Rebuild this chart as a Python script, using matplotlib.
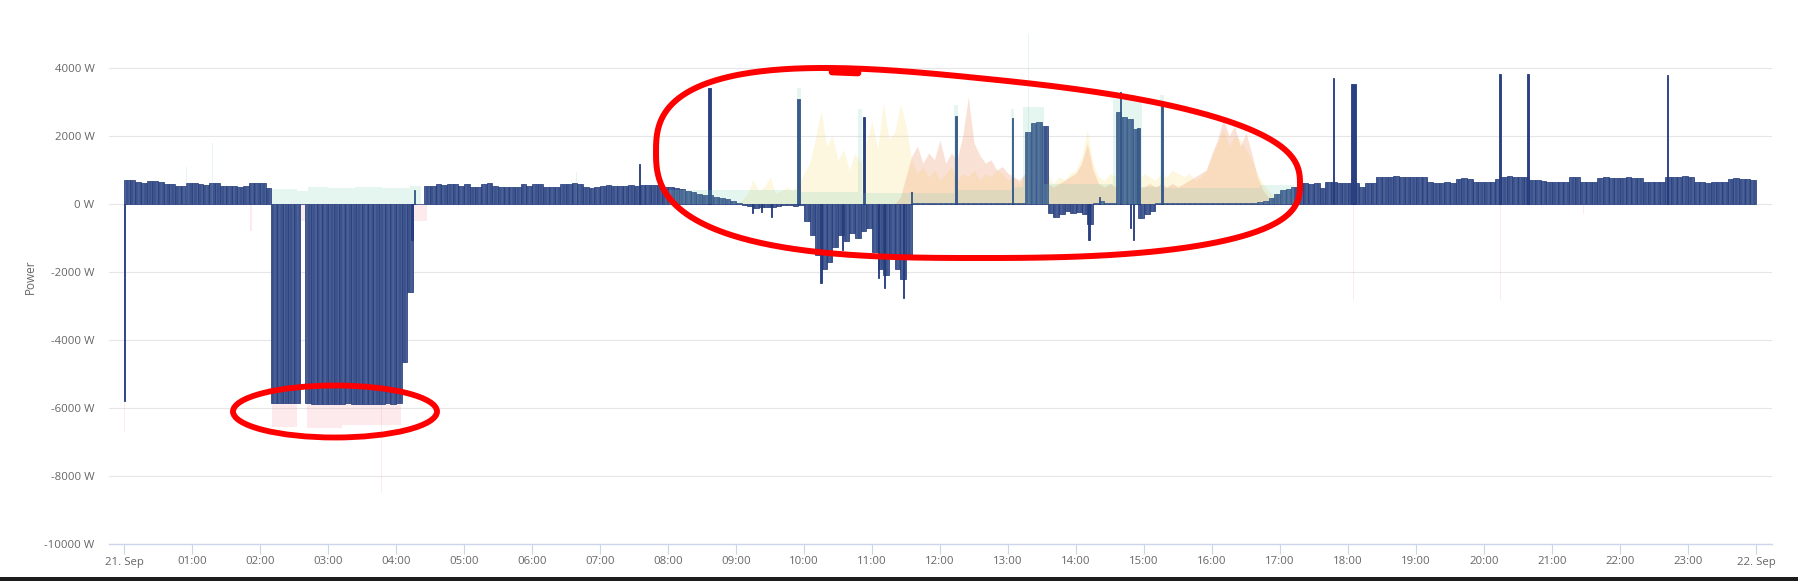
import numpy as np
import matplotlib
matplotlib.use("Agg")
import matplotlib.pyplot as plt
from matplotlib.patches import Ellipse, Rectangle

# ---------------- data (hours since 21 Sep 00:00, watts) ----------------
# main (navy) series, 5-minute values, one row per hour
navy_5min = [
    [700, 720, 650, 620, 680, 680, 650, 580, 600, 520, 540, 620],                # 00
    [620, 600, 560, 620, 610, 520, 520, 520, 510, 540, 610, 620],                # 01
    [630, 480, -5850, -5850, -5850, -5850, -5850, 0, -5850, -5880, -5870, -5880],# 02
    [-5880, -5870, -5880, -5860, -5880, -5870, -5880, -5890, -5870, -5880, -5860, -5870],  # 03
    [-5850, -4650, -2600, 0, 0, 530, 540, 600, 560, 600, 600, 520],              # 04
    [600, 500, 510, 600, 610, 520, 500, 490, 510, 500, 590, 520],                # 05
    [580, 590, 500, 510, 500, 590, 600, 610, 600, 500, 480, 500],                # 06
    [540, 550, 540, 530, 540, 560, 540, 560, 560, 570, 560, 500],                # 07
    [500, 470, 430, 370, 340, 300, 270, 260, 220, 180, 140, 80],                 # 08
    [20, -20, -60, -120, -80, -100, -90, -60, -30, -30, -60, -40],               # 09
    [-500, -900, -1500, -1900, -1700, -1250, -900, -1100, -850, -1000, -800, -700],  # 10
    [-1400, -1900, -2100, -1600, -1900, -2200, -1500, 20, 20, 20, 20, 20],       # 11
    [20, 20, 20, 20, 20, 20, 20, 20, 20, 20, 20, 20],                            # 12
    [20, 20, 20, 2130, 2370, 2400, 2300, -250, -380, -300, -200, -250],          # 13
    [-230, -300, -600, 20, 100, 20, 20, 2720, 2550, 2500, 2200, -400],           # 14
    [-300, -200, 20, 20, 20, 20, 20, 20, 20, 20, 20, 20],                        # 15
    [20, 20, 20, 20, 20, 20, 20, 20, 50, 100, 180, 300],                         # 16
    [400, 450, 500, 610, 610, 600, 620, 470, 650, 650, 630, 620],                # 17
    [630, 630, 510, 620, 630, 800, 780, 800, 810, 790, 800, 780],                # 18
    [800, 790, 640, 630, 620, 640, 630, 750, 760, 740, 650, 660],                # 19
    [640, 650, 750, 800, 820, 790, 800, 790, 700, 700, 680, 650],                # 20
    [650, 640, 660, 800, 790, 650, 640, 660, 770, 780, 760, 770],                # 21
    [770, 780, 760, 770, 650, 640, 660, 650, 800, 800, 790, 810],                # 22
    [800, 640, 650, 630, 640, 650, 640, 750, 760, 750, 740, 720],                # 23
]

# short navy spikes: time (h), value (W), duration (min)
spike_times = [0.005, 4.24, 4.27, 7.58, 8.61, 9.24, 9.37, 9.52, 9.92, 10.25, 10.57,
               10.88, 11.09, 11.19, 11.46, 11.58, 12.23, 13.07, 14.19, 14.35, 14.66,
               14.80, 14.85, 14.92, 15.26, 17.79, 18.08, 20.24, 20.65, 22.70]
spike_values = [-5800, -1060, 400, 1180, 3420, -275, -225, -370, 3100, -2330, -1350,
                2550, -2190, -2480, -2770, 360, 2590, 2520, -1060, 200, 3280,
                -700, -1060, 2230, 2910, 3700, 3530, 3810, 3810, 3790]
spike_minutes = [1.0, 1.5, 0.6, 0.6, 2.0, 1.0, 1.0, 0.7, 2.5, 1.0, 1.0,
                 1.2, 1.0, 1.0, 0.8, 1.0, 2.0, 1.0, 1.5, 1.0, 0.8,
                 1.0, 1.2, 2.0, 1.5, 1.2, 4.0, 2.0, 1.5, 1.5]

# faint mint series: start (h), end (h), value (W)
mint_start = [2.17, 2.55, 2.70, 3.00, 3.40, 3.80, 4.20, 8.00, 9.90, 9.96, 10.80, 10.86,
              12.20, 12.26, 13.05, 13.09, 13.22, 13.53, 14.55, 14.97, 15.24, 15.29, 16.70,
              0.91, 1.30, 13.30, 6.65]
mint_end = [2.55, 2.70, 3.00, 3.40, 3.80, 4.20, 4.37, 9.90, 9.96, 10.80, 10.86, 12.20,
            12.26, 13.05, 13.09, 13.22, 13.53, 14.55, 14.97, 15.24, 15.29, 16.70, 17.20,
            0.92, 1.31, 13.31, 6.66]
mint_value = [450, 380, 500, 470, 510, 480, 520, 420, 3400, 350, 2800, 330,
              2900, 400, 2800, 500, 2850, 600, 3100, 500, 3200, 480, 550,
              1100, 1780, 5000, 950]

# faint yellow series, 5-minute values from 09:00 to 17:00
yellow_start = 9.0
yellow_5min = [0, 100, 300, 700, 400, 500, 800, 300, 400, 500, 400, 600,
               900, 1200, 1900, 2750, 1700, 2000, 1300, 1600, 1000, 1500, 1200, 1800,
               2450, 1600, 3000, 1900, 2100, 2950, 2300, 1300, 900, 1100, 800, 1000,
               700, 900, 1100, 700, 900, 800, 1000, 700, 900, 800, 1000, 900,
               700, 800, 600, 900, 700, 800, 700, 900, 600, 800, 700, 900,
               1000, 1400, 2180, 1200, 800, 700, 900, 800, 700, 900, 800, 700,
               900, 800, 700, 900, 800, 1000, 900, 800, 900, 700, 800, 1000,
               1400, 1800, 2200, 1700, 2000, 1900, 1600, 1300, 900, 600, 400, 200, 0]

# faint orange series, 5-minute values from 11:00 to 17:00
orange_start = 11.0
orange_5min = [0, 0, 0, 0, 0, 200, 800, 1400, 1700, 1200, 1500, 1300,
               1880, 1200, 1500, 1300, 2000, 3150, 1800, 1440, 1200, 1300, 1000, 1100,
               900, 800, 700, 900, 700, 600, 500, 600, 500, 600, 700, 800,
               900, 1200, 1780, 1000, 600, 500, 600, 500, 600, 500, 600, 500,
               500, 600, 500, 600, 500, 600, 500, 600, 700, 800, 900, 1000,
               1500, 1900, 2500, 2000, 2300, 1700, 2100, 1500, 800, 400, 200, 100, 0]

# faint pink (negative) series: start (h), end (h), value (W)
pink_start = [0.0, 1.85, 2.17, 2.55, 2.69, 3.20, 4.08, 4.20, 3.78, 18.08, 20.24, 21.46]
pink_end = [0.02, 1.88, 2.55, 2.69, 3.20, 4.08, 4.20, 4.45, 3.79, 18.09, 20.25, 21.47]
pink_value = [-6700, -800, -6550, -500, -6600, -6500, -1900, -500, -8500, -2820, -2820, -300]

y_ticks = [-10000, -8000, -6000, -4000, -2000, 0, 2000, 4000]
x_tick_labels = ["21. Sep"] + [f"{h:02d}:00" for h in range(1, 24)] + ["22. Sep"]

# ---------------- figure ----------------
W, H = 1799, 581
plt.rcParams["font.family"] = ["Open Sans", "DejaVu Sans"]
plt.rcParams["hatch.linewidth"] = 0.4
fig = plt.figure(figsize=(W / 100, H / 100), dpi=100)
fig.patch.set_facecolor("white")

px_per_h = 68.0
x0_px, left_px, right_px = 124, 109, 1772
top_px, bottom_px, zero_px, px_per_kw = 12, 544, 204, 34.0
ax = fig.add_axes([left_px / W, (H - bottom_px) / H,
                   (right_px - left_px) / W, (bottom_px - top_px) / H])
ax.set_xlim(-(x0_px - left_px) / px_per_h, (right_px - x0_px) / px_per_h)
ax.set_ylim(-10000, (zero_px - top_px) / px_per_kw * 1000)

# navy main series
navy_vals = np.array(navy_5min, dtype=float).ravel()
navy_t = np.arange(navy_vals.size) * 5 / 60
ax.bar(navy_t, navy_vals, width=5 / 60, align="edge", color="#5a6fa0",
       edgecolor="#243b7c", linewidth=0.5, hatch="|" * 13, zorder=3)
ax.bar(spike_times, spike_values, width=np.array(spike_minutes) / 60, align="center",
       color="#2a4080", edgecolor="#233a7b", linewidth=0.6, zorder=3)

# faint series
ax.bar(pink_start, pink_value, width=np.array(pink_end) - np.array(pink_start),
       align="edge", color="#f4a0aa", alpha=0.22, linewidth=0, zorder=2)
yt = yellow_start + np.arange(len(yellow_5min)) * 5 / 60
ax.fill_between(yt, 0, yellow_5min, color="#f7dc6f", alpha=0.22, linewidth=0, zorder=2)
ot = orange_start + np.arange(len(orange_5min)) * 5 / 60
ax.fill_between(ot, 0, orange_5min, color="#ee8a5c", alpha=0.25, linewidth=0, zorder=2)
ax.bar(mint_start, mint_value, width=np.array(mint_end) - np.array(mint_start),
       align="edge", color="#7fcdb5", alpha=0.2, linewidth=0, zorder=4)

# axes styling
for s in ["top", "left", "right"]:
    ax.spines[s].set_visible(False)
ax.spines["bottom"].set_color("#ccd6eb")
ax.spines["bottom"].set_linewidth(1.0)
ax.spines["bottom"].set_zorder(5)
ax.set_yticks(y_ticks)
ax.set_yticklabels([f"{v} W" for v in y_ticks])
ax.set_xticks(range(25))
ax.set_xticklabels(x_tick_labels)
ax.tick_params(axis="y", length=0, pad=10.5, labelsize=8.2, labelcolor="#666666")
ax.tick_params(axis="x", length=7, width=0.8, color="#ccd6eb", pad=2,
               labelsize=8.2, labelcolor="#666666")
ax.yaxis.grid(True, color="#e6e6e6", linewidth=0.8)
ax.set_axisbelow(True)
fig.text(30 / W, 1 - 277 / H, "Power", rotation=90, ha="center", va="center",
         fontsize=8.5, color="#666666")

# ---------------- hand-drawn red annotations (pixel overlay) ----------------
ov = fig.add_axes([0, 0, 1, 1], facecolor="none")
ov.set_xlim(0, W)
ov.set_ylim(H, 0)
ov.axis("off")
ov.add_patch(Ellipse((335, 411.5), 204, 52, fill=False, edgecolor="#ff0000", linewidth=4.2))
th = np.linspace(0, 2 * np.pi, 400)
c, s = np.cos(th), np.sin(th)
p = 0.75
cx, cy, a, b, k = 978, 168, 322, 90, 0.1
ex = cx + a * np.sign(c) * np.abs(c) ** p
es = np.sign(s) * np.abs(s) ** p
ey = cy + b * es + k * (ex - cx) * (1 - es) / 2
ov.plot(ex, ey, color="#ff0000", linewidth=4.3, solid_capstyle="round")
ov.plot([832, 858], [72, 73], color="#ff0000", linewidth=4.8, solid_capstyle="round")
ov.add_patch(Rectangle((0, 577), W, 4, color="#1c1c1c", linewidth=0))

fig.savefig("out.png", dpi=100, facecolor="white")
